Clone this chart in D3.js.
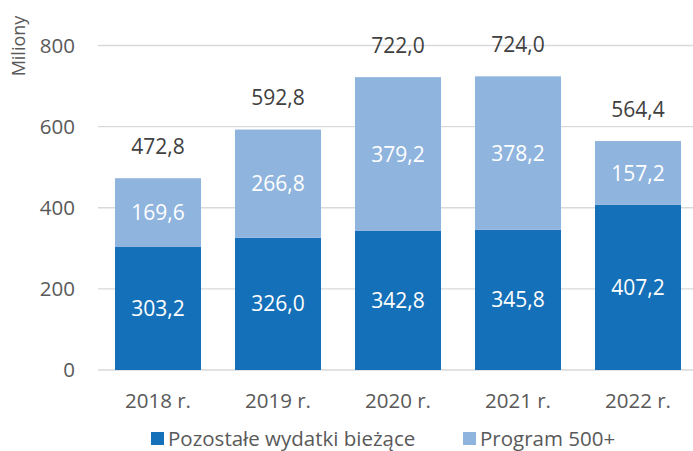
<!DOCTYPE html>
<html lang="pl">
<head>
<meta charset="UTF-8">
<title>Wydatki</title>
<script src="https://cdn.jsdelivr.net/npm/d3@7"></script>
<style>
	html,body{margin:0;padding:0;background:#fff;}
	svg{display:block;font-family:"Open Sans",sans-serif;}
</style>
</head>
<body>
<div id="chart"></div>
<script>
	var years = ["2018 r.", "2019 r.", "2020 r.", "2021 r.", "2022 r."];
	var pozostale = [303.2, 326.0, 342.8, 345.8, 407.2];
	var program500 = [169.6, 266.8, 379.2, 378.2, 157.2];
	var totals = [472.8, 592.8, 722.0, 724.0, 564.4];
	var yTicks = [0, 200, 400, 600, 800];
	var seriesNames = ["Pozostałe wydatki bieżące", "Program 500+"];
	var colors = ["#1470b8", "#8fb4de"];

	var w = 693, h = 451;
	var svg = d3.select("#chart").append("svg").attr("width", w).attr("height", h);

	var x = d3.scaleBand().domain(years).range([98, 698]).paddingInner(0.283).paddingOuter(0.1415);
	var y = d3.scaleLinear().domain([0, 800]).range([370, 45.5]);
	var fmt = function(v){ return d3.format(".1f")(v).replace(".", ","); };

	// siatka
	svg.append("g").selectAll("line").data(yTicks).enter().append("line")
		.attr("x1", 98).attr("x2", 693)
		.attr("y1", function(d){ return y(d); }).attr("y2", function(d){ return y(d); })
		.attr("stroke", "#d9d9d9").attr("stroke-width", 1.3);

	svg.append("g").selectAll("text").data(yTicks).enter().append("text")
		.attr("x", 75).attr("y", function(d){ return y(d); }).attr("dy", "0.36em")
		.attr("text-anchor", "end").attr("fill", "#595959").attr("font-size", 20.5)
		.text(function(d){ return d; });

	svg.append("text").attr("transform", "translate(25,46) rotate(-90)")
		.attr("text-anchor", "middle").attr("fill", "#595959").attr("font-size", 18)
		.text("Miliony");

	var rows = years.map(function(yr, i){ return {year: yr, a: pozostale[i], b: program500[i], t: totals[i]}; });

	var g = svg.append("g");
	g.selectAll("rect.a").data(rows).enter().append("rect")
		.attr("x", function(d){ return x(d.year); }).attr("width", x.bandwidth())
		.attr("y", function(d){ return y(d.a); }).attr("height", function(d){ return y(0) - y(d.a); })
		.attr("fill", colors[0]);
	g.selectAll("rect.b").data(rows).enter().append("rect")
		.attr("x", function(d){ return x(d.year); }).attr("width", x.bandwidth())
		.attr("y", function(d){ return y(d.a + d.b); }).attr("height", function(d){ return y(d.a) - y(d.a + d.b); })
		.attr("fill", colors[1]);

	var cx = function(d){ return x(d.year) + x.bandwidth() / 2; };
	g.selectAll("text.a").data(rows).enter().append("text")
		.attr("x", cx).attr("y", function(d){ return y(d.a / 2); }).attr("dy", "0.36em")
		.attr("text-anchor", "middle").attr("fill", "#fff").attr("font-size", 21)
		.text(function(d){ return fmt(d.a); });
	g.selectAll("text.b").data(rows).enter().append("text")
		.attr("x", cx).attr("y", function(d){ return y(d.a + d.b / 2); }).attr("dy", "0.36em")
		.attr("text-anchor", "middle").attr("fill", "#fff").attr("font-size", 21)
		.text(function(d){ return fmt(d.b); });
	g.selectAll("text.t").data(rows).enter().append("text")
		.attr("x", cx).attr("y", function(d){ return y(d.t) - 32; }).attr("dy", "0.36em")
		.attr("text-anchor", "middle").attr("fill", "#404040").attr("font-size", 21)
		.text(function(d){ return fmt(d.t); });

	// etykiety osi X
	svg.append("g").selectAll("text").data(years).enter().append("text")
		.attr("x", function(d){ return x(d) + x.bandwidth() / 2; }).attr("y", 401).attr("dy", "0.36em")
		.attr("text-anchor", "middle").attr("fill", "#595959").attr("font-size", 20.5)
		.text(function(d){ return d; });

	// legenda
	var legX = [151, 463];
	var leg = svg.append("g").selectAll("g").data(seriesNames).enter().append("g")
		.attr("transform", function(d, i){ return "translate(" + legX[i] + ",439)"; });
	leg.append("rect").attr("x", 0).attr("y", -7).attr("width", 13).attr("height", 13)
		.attr("fill", function(d, i){ return colors[i]; });
	leg.append("text").attr("x", 17).attr("dy", "0.36em").attr("fill", "#595959").attr("font-size", 20.5)
		.text(function(d){ return d; });
</script>
</body>
</html>
